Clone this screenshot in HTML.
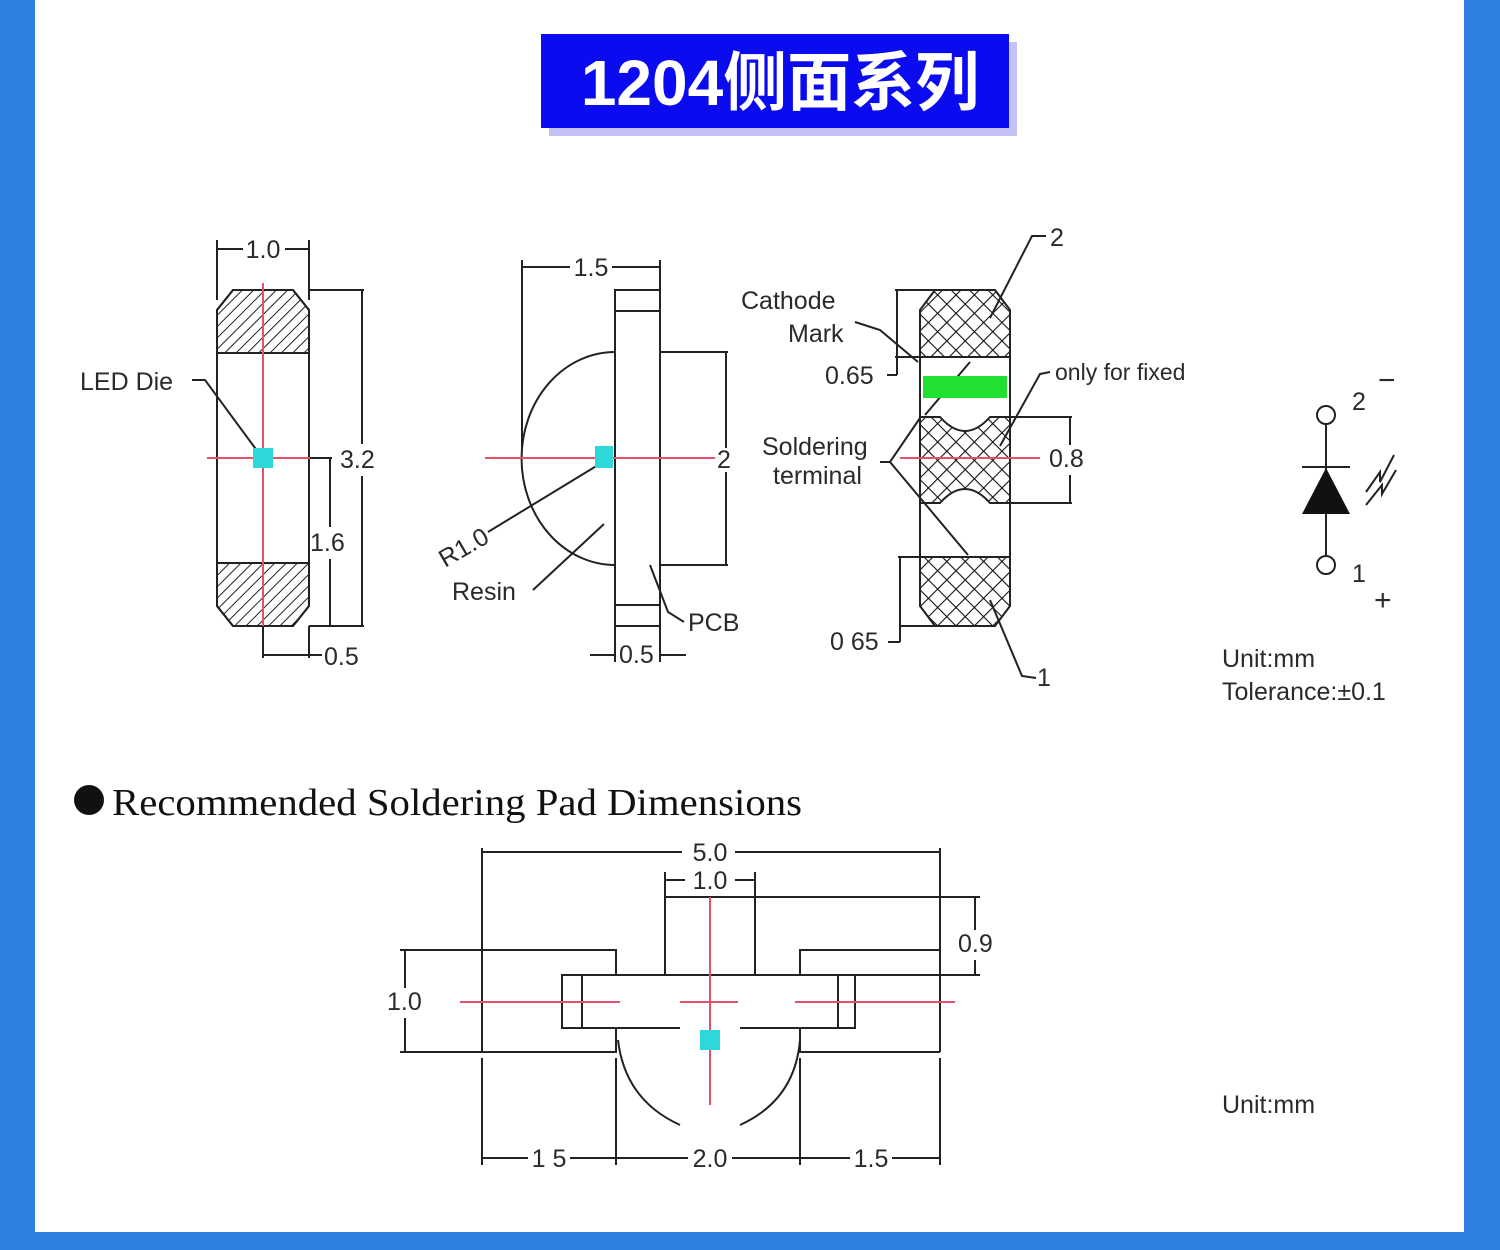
<!DOCTYPE html>
<html><head><meta charset="utf-8"><style>
html,body{margin:0;padding:0;background:#2f80e0;}
#w{position:relative;width:1500px;height:1250px;overflow:hidden;background:#2f80e0;}
#p{position:absolute;left:35px;top:0;width:1429px;height:1232px;background:#fff;}
svg{position:absolute;left:0;top:0;}
text{font-family:"Liberation Sans",sans-serif;fill:#2a2a2a;}
</style></head><body><div id="w"><div id="p"></div>
<svg width="1500" height="1250" viewBox="0 0 1500 1250">
<defs>
<pattern id="h1" width="8" height="8" patternUnits="userSpaceOnUse" patternTransform="rotate(45)"><line x1="0" y1="0" x2="0" y2="8" stroke="#222" stroke-width="2"/></pattern>
<pattern id="h2" width="13" height="13" patternUnits="userSpaceOnUse" patternTransform="rotate(45)"><line x1="0" y1="0" x2="0" y2="13" stroke="#111" stroke-width="2.2"/><line x1="0" y1="0" x2="13" y2="0" stroke="#111" stroke-width="2.2"/></pattern>
</defs>
<!-- title -->
<rect x="549" y="42" width="468" height="94" fill="#c4c2f4"/>
<rect x="541" y="34" width="468" height="94" fill="#0b0bf0"/>
<text x="780" y="105" text-anchor="middle" style="font-family:'Liberation Sans','Noto Sans CJK SC',sans-serif;font-size:64px;font-weight:bold;fill:#fff">1204侧面系列</text>

<g stroke="#222" stroke-width="2" fill="none">
<!-- drawing 1 -->
<path d="M233 290 L293 290 L309 310 L309 606 L293 626 L233 626 L217 606 L217 310 Z"/>
<path d="M233 290 L293 290 L309 310 L309 353 L217 353 L217 310 Z" fill="url(#h1)"/>
<path d="M217 563 L309 563 L309 606 L293 626 L233 626 L217 606 Z" fill="url(#h1)"/>
<line x1="217" y1="240" x2="217" y2="300"/><line x1="309" y1="240" x2="309" y2="300"/>
<line x1="217" y1="249" x2="243" y2="249"/><line x1="285" y1="249" x2="309" y2="249"/>
<line x1="309" y1="290" x2="364" y2="290"/><line x1="362" y1="290" x2="362" y2="444"/><line x1="362" y1="476" x2="362" y2="626"/><line x1="309" y1="626" x2="364" y2="626"/>
<line x1="263" y1="458" x2="332" y2="458"/><line x1="330" y1="458" x2="330" y2="527"/><line x1="330" y1="559" x2="330" y2="626"/>
<line x1="263" y1="626" x2="263" y2="658"/><line x1="309" y1="626" x2="309" y2="658"/><line x1="263" y1="655" x2="322" y2="655"/>
<polyline points="192,380 205,380 258,452"/>
<!-- drawing 2 -->
<rect x="615" y="290" width="45" height="336"/>
<line x1="615" y1="311" x2="660" y2="311"/><line x1="615" y1="605" x2="660" y2="605"/>
<path d="M615 352 A93 106 0 0 0 615 565"/>
<line x1="660" y1="352" x2="728" y2="352"/><line x1="660" y1="565" x2="728" y2="565"/>
<line x1="726" y1="352" x2="726" y2="448"/><line x1="726" y1="472" x2="726" y2="565"/>
<line x1="522" y1="260" x2="522" y2="450"/><line x1="660" y1="260" x2="660" y2="290"/>
<line x1="522" y1="267" x2="570" y2="267"/><line x1="612" y1="267" x2="660" y2="267"/>
<line x1="488" y1="532" x2="598" y2="465"/>
<line x1="533" y1="590" x2="604" y2="524"/>
<polyline points="650,565 668,612 684,622"/>
<line x1="615" y1="626" x2="615" y2="662"/><line x1="660" y1="626" x2="660" y2="662"/>
<line x1="590" y1="655" x2="615" y2="655"/><line x1="660" y1="655" x2="686" y2="655"/>
<!-- drawing 3 -->
<line x1="920" y1="310" x2="920" y2="606"/><line x1="1010" y1="310" x2="1010" y2="606"/>
<path d="M935 290 L995 290 L1010 310 L1010 357 L920 357 L920 310 Z" fill="url(#h2)"/>
<path d="M920 557 L1010 557 L1010 606 L995 626 L935 626 L920 606 Z" fill="url(#h2)"/>
<path d="M920 417 L940 417 Q965 445 990 417 L1010 417 L1010 503 L990 503 Q965 475 940 503 L920 503 Z" fill="url(#h2)"/>
<line x1="895" y1="290" x2="935" y2="290"/><line x1="897" y1="290" x2="897" y2="375"/><line x1="887" y1="375" x2="897" y2="375"/><line x1="895" y1="357" x2="920" y2="357"/>
<line x1="898" y1="557" x2="920" y2="557"/><line x1="900" y1="557" x2="900" y2="642"/><line x1="888" y1="642" x2="900" y2="642"/><line x1="900" y1="626" x2="935" y2="626"/>
<line x1="1010" y1="417" x2="1072" y2="417"/><line x1="990" y1="503" x2="1072" y2="503"/>
<line x1="1070" y1="417" x2="1070" y2="445"/><line x1="1070" y1="475" x2="1070" y2="503"/>
<polyline points="855,322 880,330 918,362"/>
<line x1="925" y1="415" x2="970" y2="362"/>
<polyline points="880,462 890,462 920,418"/><line x1="890" y1="462" x2="968" y2="555"/>
<polyline points="1050,372 1040,374 1000,446"/>
<polyline points="990,318 1032,236 1046,236"/>
<polyline points="990,600 1022,676 1036,678"/>
<!-- diode -->
<circle cx="1326" cy="415" r="9"/><circle cx="1326" cy="565" r="9"/>
<line x1="1326" y1="424" x2="1326" y2="556"/><line x1="1302" y1="467" x2="1350" y2="467"/>
<polyline points="1366,492 1380,472 1380,482 1394,455"/><polyline points="1366,505 1382,485 1382,494 1396,470"/>
<!-- bottom drawing -->
<line x1="482" y1="852" x2="682" y2="852"/><line x1="735" y1="852" x2="940" y2="852"/>
<line x1="482" y1="848" x2="482" y2="1052"/><line x1="940" y1="848" x2="940" y2="1052"/>
<polyline points="482,950 616,950 616,975"/><polyline points="482,1052 616,1052 616,1028"/>
<polyline points="940,950 800,950 800,975"/><polyline points="940,1052 800,1052 800,1028"/>
<rect x="665" y="897" width="90" height="78"/>
<line x1="665" y1="872" x2="665" y2="897"/><line x1="755" y1="872" x2="755" y2="897"/>
<line x1="665" y1="880" x2="685" y2="880"/><line x1="735" y1="880" x2="755" y2="880"/>
<path d="M680 975 L562 975 L562 1028 L680 1028 M582 975 L582 1028"/>
<path d="M740 975 L855 975 L855 1028 L740 1028 M838 975 L838 1028"/>
<line x1="755" y1="897" x2="980" y2="897"/><line x1="760" y1="975" x2="980" y2="975"/><line x1="975" y1="897" x2="975" y2="930"/><line x1="975" y1="960" x2="975" y2="975"/>
<line x1="400" y1="950" x2="482" y2="950"/><line x1="400" y1="1052" x2="482" y2="1052"/><line x1="405" y1="950" x2="405" y2="988"/><line x1="405" y1="1018" x2="405" y2="1052"/>
<path d="M618 1040 Q625 1100 680 1125"/><path d="M800 1040 Q795 1100 740 1125"/>
<line x1="482" y1="1058" x2="482" y2="1165"/><line x1="616" y1="1058" x2="616" y2="1165"/><line x1="800" y1="1058" x2="800" y2="1165"/><line x1="940" y1="1058" x2="940" y2="1165"/>
<line x1="482" y1="1158" x2="528" y2="1158"/><line x1="570" y1="1158" x2="688" y2="1158"/><line x1="732" y1="1158" x2="850" y2="1158"/><line x1="892" y1="1158" x2="940" y2="1158"/>
</g>
<polygon points="1302,514 1350,514 1326,468" fill="#111"/>
<circle cx="89" cy="800" r="15" fill="#111"/>
<!-- red lines -->
<g stroke="#e8506a" stroke-width="2">
<line x1="263" y1="283" x2="263" y2="626"/><line x1="207" y1="458" x2="310" y2="458"/>
<line x1="485" y1="458" x2="715" y2="458"/>
<line x1="900" y1="458" x2="1040" y2="458"/>
<line x1="710" y1="897" x2="710" y2="1105"/>
<line x1="460" y1="1002" x2="620" y2="1002"/><line x1="680" y1="1002" x2="738" y2="1002"/><line x1="795" y1="1002" x2="955" y2="1002"/>
</g>
<g fill="#2ed8d8">
<rect x="253" y="448" width="20" height="20"/><rect x="595" y="446" width="18" height="22"/><rect x="700" y="1030" width="20" height="20"/>
</g>
<rect x="923" y="376" width="84" height="22" fill="#22e030"/>
<!-- texts -->
<g style="font-size:25px">
<text x="263" y="258" text-anchor="middle">1.0</text>
<text x="340" y="468">3.2</text>
<text x="310" y="551">1.6</text>
<text x="324" y="665">0.5</text>
<text x="80" y="390">LED  Die</text>
<text x="591" y="276" text-anchor="middle">1.5</text>
<text x="717" y="468">2</text>
<text x="445" y="568" transform="rotate(-30 445 568)">R1.0</text>
<text x="452" y="600">Resin</text>
<text x="688" y="631">PCB</text>
<text x="619" y="663">0.5</text>
<text x="741" y="309">Cathode</text>
<text x="788" y="342">Mark</text>
<text x="825" y="384">0.65</text>
<text x="830" y="650">0 65</text>
<text x="762" y="455">Soldering</text>
<text x="773" y="484">terminal</text>
<text x="1049" y="467">0.8</text>
<text x="1050" y="246">2</text>
<text x="1037" y="686">1</text>
<text x="1055" y="380" style="font-size:23px">only  for  fixed</text>
<text x="1352" y="410">2</text>
<text x="1352" y="582">1</text>
<text x="1378" y="390" style="font-size:30px">−</text>
<text x="1374" y="610" style="font-size:30px">+</text>
<text x="1222" y="667">Unit:mm</text>
<text x="1222" y="700">Tolerance:±0.1</text>
<text x="710" y="861" text-anchor="middle">5.0</text>
<text x="710" y="889" text-anchor="middle">1.0</text>
<text x="958" y="952">0.9</text>
<text x="387" y="1010">1.0</text>
<text x="549" y="1167" text-anchor="middle">1 5</text>
<text x="710" y="1167" text-anchor="middle">2.0</text>
<text x="871" y="1167" text-anchor="middle">1.5</text>
<text x="1222" y="1113">Unit:mm</text>
</g>
<text x="112" y="815" textLength="690" lengthAdjust="spacingAndGlyphs" style="font-family:'Liberation Serif',serif;font-size:38px;fill:#111">Recommended Soldering Pad Dimensions</text>
</svg></div></body></html>
